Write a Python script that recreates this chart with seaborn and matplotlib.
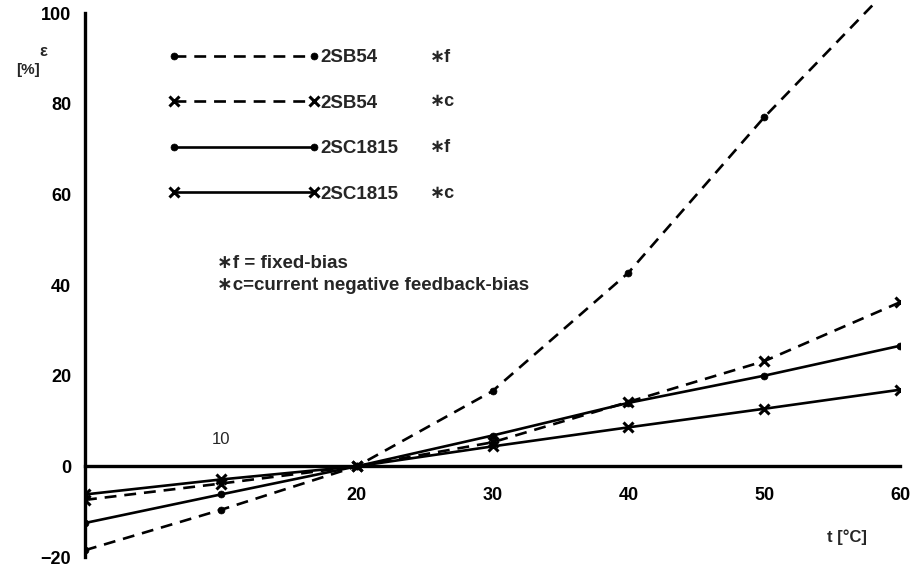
import matplotlib
matplotlib.use("Agg")
import matplotlib.pyplot as plt
import seaborn as sns
import numpy as np
import pandas as pd

# ---- data ----
t_values = [0, 10, 20, 30, 40, 50, 60]
sb54_f = [-18.5, -9.6, 0, 16.6, 42.7, 77.0, 108.0]
sb54_c = [-7.4, -3.8, 0, 5.3, 14.2, 23.2, 36.2]
sc1815_f = [-12.5, -6.2, 0, 6.8, 14.0, 20.0, 26.6]
sc1815_c = [-6.2, -2.9, 0, 4.4, 8.6, 12.7, 16.9]

series_names = ["2SB54", "2SB54", "2SC1815", "2SC1815"]
series_tags = ["∗f", "∗c", "∗f", "∗c"]
x_ticks = [10, 20, 30, 40, 50, 60]
x_ticklabels = ["", "20", "30", "40", "50", "60"]
y_ticks = [100, 80, 60, 40, 20, 0, -20]
y_ticklabels = ["100", "80", "60", "40", "20", "0", "−20"]

sns.set_style("white")
plt.rcParams["font.family"] = ["Liberation Sans", "DejaVu Sans"]
plt.rcParams["font.weight"] = "bold"

W, H = 917, 572
fig = plt.figure(figsize=(W / 100, H / 100), dpi=100)
# axes: x 0..60 -> px 85..900 ; y -20..102 -> px 557..4
ax = fig.add_axes([85 / W, (H - 557) / H, (900 - 85) / W, (557 - 4) / H])
ax.set_xlim(0, 60)
ax.set_ylim(-20, 102)

dash = (0, (4.5, 3.0))
styles = [
    dict(linestyle=dash, marker="o", markersize=5, markeredgewidth=0.5),
    dict(linestyle=dash, marker="x", markersize=7.5, markeredgewidth=2.2),
    dict(linestyle="-", marker="o", markersize=5, markeredgewidth=0.5),
    dict(linestyle="-", marker="x", markersize=7.5, markeredgewidth=2.2),
]
all_series = [sb54_f, sb54_c, sc1815_f, sc1815_c]
handles = []
for vals, st in zip(all_series, styles):
    df = pd.DataFrame({"t": t_values, "eps": vals})
    sns.lineplot(data=df, x="t", y="eps", ax=ax, color="black", linewidth=1.9,
                 markerfacecolor="black", markeredgecolor="black",
                 legend=False, zorder=3, **st)
    handles.append(ax.lines[-1])

# spines / axes
for s in ["top", "right"]:
    ax.spines[s].set_visible(False)
ax.spines["bottom"].set_position(("data", 0))
ax.spines["bottom"].set_bounds(0, 60)
ax.spines["left"].set_bounds(-20, 100)
for s in ["bottom", "left"]:
    ax.spines[s].set_linewidth(2.4)
    ax.spines[s].set_color("black")

ax.set_xticks(x_ticks)
ax.set_xticklabels(x_ticklabels)
ax.set_yticks(y_ticks)
ax.set_yticklabels(y_ticklabels)
ax.tick_params(axis="x", direction="inout", length=14, width=1.8, pad=8,
               labelsize=13, colors="black")
ax.tick_params(axis="y", direction="out", length=8, width=1.8, pad=2,
               labelsize=13, colors="black")
for lab in ax.get_xticklabels() + ax.get_yticklabels():
    lab.set_fontweight("bold")
ax.set_xlabel("")
ax.set_ylabel("")

# "10" label sits above the axis
ax.annotate("10", (10, 0), xytext=(0, 14), textcoords="offset points",
            ha="center", va="bottom", fontsize=12, fontweight="normal")

# legend
leg = ax.legend(handles, series_names, loc="upper left",
                bbox_to_anchor=(168 / W, 1 - 49 / H), bbox_transform=fig.transFigure,
                frameon=False, handlelength=8.1, handletextpad=0.05,
                labelspacing=1.52, borderpad=0, borderaxespad=0, numpoints=2,
                prop=dict(size=13.5, weight="bold"))
row_y = [57, 102, 148, 193]
for tag, yy in zip(series_tags, row_y):
    fig.text(430 / W, 1 - yy / H, tag, ha="left", va="center",
             fontsize=13, fontweight="bold")

# notes
fig.text(217 / W, 1 - 263 / H, "∗f = fixed-bias", ha="left", va="center",
         fontsize=13.5, fontweight="bold")
fig.text(217 / W, 1 - 285 / H, "∗c=current negative feedback-bias", ha="left",
         va="center", fontsize=13.5, fontweight="bold")

# axis labels
fig.text(43 / W, 1 - 52 / H, "ε", ha="center", va="center", fontsize=12,
         fontweight="bold")
fig.text(28 / W, 1 - 70 / H, "[%]", ha="center", va="center", fontsize=11,
         fontweight="bold")
fig.text(847 / W, 1 - 537 / H, "t [°C]", ha="center", va="center",
         fontsize=12, fontweight="bold")

fig.savefig("out.png", dpi=100, facecolor="white")
